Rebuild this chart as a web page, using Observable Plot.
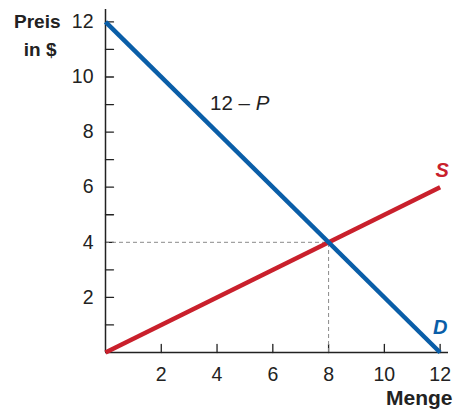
<!DOCTYPE html>
<html>
<head>
<meta charset="utf-8">
<script src="https://cdn.jsdelivr.net/npm/d3@7"></script>
<script src="https://cdn.jsdelivr.net/npm/@observablehq/plot@0.6"></script>
<style>
  html, body { margin: 0; padding: 0; background: #fff; }
  #chart svg { display: block; }
</style>
</head>
<body>
<div id="chart"></div>
<script>
// Quantity (Menge) and price (Preis) for the two curves
const quantity = [0, 12];
const demandPrice = [12, 0];   // D: 12 – P
const supplyPrice = [0, 6];    // S
// Equilibrium point
const eqQuantity = 8;
const eqPrice = 4;
// Axis ticks and labels
const xTickValues = [2, 4, 6, 8, 10, 12];
const yTickValues = [1, 2, 3, 4, 5, 6, 7, 8, 9, 10, 11, 12];
const yLabelValues = [2, 4, 6, 8, 10, 12];

const demand = quantity.map((q, i) => ({q, p: demandPrice[i]}));
const supply = quantity.map((q, i) => ({q, p: supplyPrice[i]}));

const ink = "#222";
const blue = "#0a5ea8";
const red = "#c9202c";
const font = "'Liberation Sans', Arial, Helvetica, sans-serif";

// short tick drawn from the anchor point in the vector's direction
const tickShape = {draw(context, l) { context.moveTo(0, 0); context.lineTo(0, -l); }};

const chart = Plot.plot({
  width: 453,
  height: 409,
  marginLeft: 105,
  marginRight: 5,
  marginTop: 9,
  marginBottom: 57,
  style: {fontFamily: font, fontSize: "19px", color: ink, background: "#fff"},
  x: {domain: [0, 12.3]},
  y: {domain: [0, 12.45]},
  marks: [
    // tick labels
    Plot.axisX(xTickValues, {tickSize: 0, tickPadding: 15, fontSize: 19.5, fill: ink, label: null}),
    Plot.axisY(yLabelValues, {tickSize: 0, tickPadding: 12, fontSize: 19.5, fill: ink, label: null}),
    // inward tick marks
    Plot.vector(yTickValues, {x: 0, y: d => d, length: 8, rotate: 90, anchor: "start", shape: tickShape, stroke: ink, strokeWidth: 1.3}),
    Plot.vector(xTickValues, {x: d => d, y: 0, length: 8, rotate: 0, anchor: "start", shape: tickShape, stroke: ink, strokeWidth: 1.3}),
    // guide lines to the equilibrium
    Plot.ruleY([eqPrice], {x1: 0, x2: eqQuantity, stroke: "#8a8a8a", strokeWidth: 1, strokeDasharray: "4,3"}),
    Plot.ruleX([eqQuantity], {y1: 0, y2: eqPrice, stroke: "#8a8a8a", strokeWidth: 1, strokeDasharray: "4,3"}),
    // axes
    Plot.ruleX([0], {stroke: ink, strokeWidth: 1.5}),
    Plot.ruleY([0], {stroke: ink, strokeWidth: 1.5}),
    // curves
    Plot.line(supply, {x: "q", y: "p", stroke: red, strokeWidth: 4.5, strokeLinecap: "butt"}),
    Plot.line(demand, {x: "q", y: "p", stroke: blue, strokeWidth: 4.5, strokeLinecap: "butt"}),
    // labels
    Plot.text(["12 – P"], {x: 3.75, y: 9.03, textAnchor: "start", fontSize: 20.5, fill: ink}),
    Plot.text(["S"], {x: 12.07, y: 6.6, fontSize: 20, fontWeight: "bold", fontStyle: "italic", fill: red}),
    Plot.text(["D"], {x: 12.0, y: 0.9, fontSize: 20, fontWeight: "bold", fontStyle: "italic", fill: blue}),
    Plot.text(["Preis"], {x: 0, y: 12, dx: -45, textAnchor: "end", fontSize: 19, fontWeight: "bold", fill: ink}),
    Plot.text(["in $"], {x: 0, y: 11, dx: -49, textAnchor: "end", fontSize: 19, fontWeight: "bold", fill: ink}),
    Plot.text(["Menge"], {x: 12.3, y: 0, dx: 4, dy: 46, textAnchor: "end", fontSize: 21, fontWeight: "bold", fill: ink})
  ]
});

// set the P of "12 – P" in italics
d3.select(chart).selectAll("text").each(function() {
  const t = d3.select(this);
  if (t.text() === "12 – P") {
    t.text(null);
    t.append("tspan").text("12 – ");
    t.append("tspan").attr("font-style", "italic").text("P");
  }
});

document.getElementById("chart").append(chart);
</script>
</body>
</html>
